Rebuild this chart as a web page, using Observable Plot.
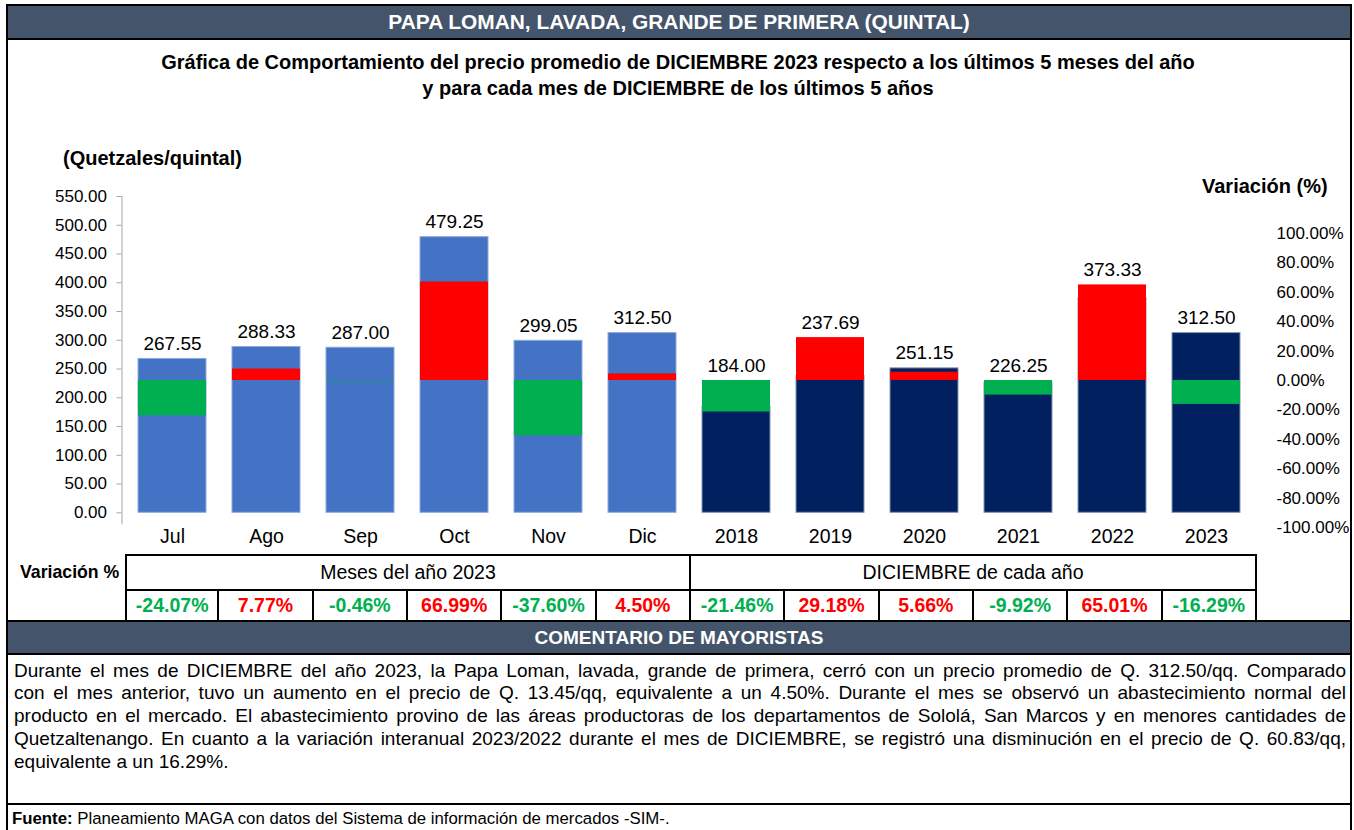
<!DOCTYPE html>
<html><head><meta charset="utf-8">
<script src="https://cdn.jsdelivr.net/npm/d3@7"></script>
<script src="https://cdn.jsdelivr.net/npm/@observablehq/plot@0.6"></script>
<style>
html,body{margin:0;padding:0;background:#fff;}
body{width:1354px;height:830px;overflow:hidden;position:relative;font-family:"Liberation Sans",Arial,sans-serif;color:#000;}
.abs{position:absolute;}
.bar{position:absolute;left:6px;width:1346px;box-sizing:border-box;background:#44546A;border:2px solid #000;color:#fff;font-weight:bold;text-align:center;}
.cell{position:absolute;box-sizing:border-box;border:2px solid #000;text-align:center;background:#fff;}
</style></head><body>
<div class="abs" style="left:6px;top:4px;width:1346px;height:860px;box-sizing:border-box;border:2px solid #000;"></div>
<div class="bar" id="hdr" style="top:4px;height:36px;line-height:32px;font-size:20.9px;"></div>
<div class="abs" id="title" style="left:0;width:1356px;top:49px;text-align:center;font-weight:bold;font-size:20px;line-height:26px;"></div>
<div class="abs" id="ylab" style="left:63px;top:146px;font-weight:bold;font-size:20px;line-height:24px;"></div>
<div class="abs" id="ylab2" style="left:1202px;top:174px;font-weight:bold;font-size:20px;line-height:24px;"></div>
<div id="chart" class="abs" style="left:0;top:180px;"></div>
<div id="chart2" class="abs" style="left:0;top:180px;"></div>
<div class="abs" id="varlab" style="left:20px;top:562px;font-weight:bold;font-size:17.7px;line-height:20px;"></div>
<div id="table"></div>
<div class="bar" id="chdr" style="top:620px;height:35px;line-height:31px;font-size:19px;"></div>
<div id="comment" class="abs" style="left:14px;width:1332px;top:659.5px;font-size:19px;line-height:22.75px;"></div>
<div class="abs" style="left:6px;width:1346px;top:803px;border-top:2px solid #000;"></div>
<div class="abs" id="foot" style="left:12px;top:810px;font-size:16.8px;line-height:18px;"></div>
<script>
// ---------- data ----------
const categories = ["Jul","Ago","Sep","Oct","Nov","Dic","2018","2019","2020","2021","2022","2023"];
const prices = [267.55, 288.33, 287.00, 479.25, 299.05, 312.50, 184.00, 237.69, 251.15, 226.25, 373.33, 312.50];
const variations = [-24.07, 7.77, -0.46, 66.99, -37.60, 4.50, -21.46, 29.18, 5.66, -9.92, 65.01, -16.29];
const groupOf = ["mes","mes","mes","mes","mes","mes","anio","anio","anio","anio","anio","anio"];
const priceTicks = [0,50,100,150,200,250,300,350,400,450,500,550];
const pctTicks = [-100,-80,-60,-40,-20,0,20,40,60,80,100];
const groupHeaders = ["Meses del año 2023","DICIEMBRE de cada año"];
const headerText = "PAPA LOMAN, LAVADA, GRANDE DE PRIMERA (QUINTAL)";
const titleLines = ["Gráfica de Comportamiento del precio promedio de DICIEMBRE 2023 respecto a los últimos 5 meses del año",
                    "y para cada mes de DICIEMBRE de los últimos 5 años"];
const yLabel = "(Quetzales/quintal)";
const y2Label = "Variación (%)";
const tableLabel = "Variación %";
const commentHeader = "COMENTARIO DE MAYORISTAS";
const commentLines = [
 "Durante el mes de DICIEMBRE del año 2023, la Papa Loman, lavada, grande de primera, cerró con un precio promedio de Q. 312.50/qq. Comparado",
 "con el mes anterior, tuvo un aumento en el precio  de Q. 13.45/qq, equivalente a un 4.50%. Durante el mes se observó un abastecimiento normal del",
 "producto en el mercado. El abastecimiento provino de las áreas productoras de los departamentos de Sololá, San Marcos y en menores cantidades de",
 "Quetzaltenango. En cuanto a la variación interanual 2023/2022 durante el mes de DICIEMBRE, se registró una disminución en el precio de Q. 60.83/qq,",
 "equivalente a un 16.29%."
];
const sourceBold = "Fuente:";
const sourceText = " Planeamiento MAGA con datos del Sistema de información de mercados -SIM-.";

// ---------- texts ----------
document.getElementById("hdr").textContent = headerText;
document.getElementById("title").innerHTML = titleLines.join("<br>");
document.getElementById("ylab").textContent = yLabel;
document.getElementById("ylab2").textContent = y2Label;
document.getElementById("varlab").textContent = tableLabel;
document.getElementById("chdr").textContent = commentHeader;
document.getElementById("comment").innerHTML = commentLines.map((l,i)=>
  `<div style="text-align:justify;text-align-last:${i<commentLines.length-1?'justify':'left'}">${l}</div>`).join("");
document.getElementById("foot").innerHTML = `<b>${sourceBold}</b>${sourceText}`;

// ---------- chart ----------
const W = 1354, H = 370;
const mL = 121.5, mR = 97;
const mT1 = 16, mB1 = 37.7;
const mT2 = 53, mB2 = 23;
const FONT = '"Liberation Sans", Arial, sans-serif';
const data = categories.map((c,i)=>({cat:c, price:prices[i], pct:variations[i], group:groupOf[i]}));
const xOpts = {domain: categories, paddingInner: 0.28, paddingOuter: 0.14};
const yP = Plot.scale({y:{domain:[0,550], range:[H-mB1, mT1]}});
const yV = Plot.scale({y:{domain:[-100,100], range:[H-mB2, mT2]}});
const labelY = d => yP.invert(Math.min(yP.apply(d.price), yV.apply(Math.max(d.pct,0))));
const style = {fontFamily: FONT, background:"transparent", color:"#000", overflow:"visible"};

const p1 = Plot.plot({
  width: W, height: H, marginLeft: mL, marginRight: mR, marginTop: mT1, marginBottom: mB1,
  style,
  x: {...xOpts, label: null},
  y: {domain:[0,550], label: null},
  marks: [
    Plot.frame({anchor:"left", stroke:"#a6a6a6", insetBottom:-11}),
    Plot.axisY(priceTicks, {tickSize:5, tickPadding:10, tickFormat:d=>d.toFixed(2), fontSize:17, stroke:"#a6a6a6", label:null}),
    Plot.axisX({tickSize:0, tickPadding:16, fontSize:19.5, label:null}),
    Plot.barY(data.filter(d=>d.group==="mes"), {x:"cat", y:"price", fill:"#4472C4", stroke:"#8eaadb", strokeWidth:1}),
    Plot.barY(data.filter(d=>d.group==="anio"), {x:"cat", y:"price", fill:"#002060", stroke:"#8497b0", strokeWidth:1}),
    Plot.text(data, {x:"cat", y:labelY, text:d=>d.price.toFixed(2), lineAnchor:"bottom", dy:-9, fontSize:19})
  ]
});
document.getElementById("chart").append(p1);

const p2 = Plot.plot({
  width: W, height: H, marginLeft: mL, marginRight: mR, marginTop: mT2, marginBottom: mB2,
  style,
  x: {...xOpts, axis: null},
  y: {domain:[-100,100], label: null},
  marks: [
    Plot.barY(data.filter(d=>d.pct>=0), {x:"cat", y1:0, y2:"pct", fill:"#FF0000"}),
    Plot.barY(data.filter(d=>d.pct<0), {x:"cat", y1:0, y2:"pct", fill:"#00B050"}),
    Plot.axisY(pctTicks, {anchor:"right", tickSize:0, tickPadding:19, tickFormat:d=>d.toFixed(2)+"%", fontSize:17, label:null})
  ]
});
document.getElementById("chart2").append(p2);

// ---------- variation table ----------
const tbl = document.getElementById("table");
const tLeft = 125, tRight = 1257, r1Top = 554, r1Bot = 589, r2Bot = 622;
const colW = (tRight - tLeft) / categories.length;
const half = categories.length / 2;
groupHeaders.forEach((g,j)=>{
  const c = document.createElement("div");
  c.className = "cell";
  c.style.cssText = `left:${tLeft + j*half*colW - (j?2:0)}px;top:${r1Top}px;width:${half*colW + (j?2:0)}px;height:${r1Bot-r1Top+2}px;line-height:${r1Bot-r1Top-2}px;font-size:19.5px;`;
  c.textContent = g;
  tbl.append(c);
});
variations.forEach((v,i)=>{
  const c = document.createElement("div");
  c.className = "cell";
  c.style.cssText = `left:${tLeft + i*colW - (i?2:0)}px;top:${r1Bot}px;width:${colW + (i?2:0)}px;height:${r2Bot-r1Bot}px;line-height:${r2Bot-r1Bot-4}px;font-size:19.5px;font-weight:bold;color:${v>=0?'#FF0000':'#00B050'};`;
  c.textContent = v.toFixed(2) + "%";
  tbl.append(c);
});
</script>
</body></html>
